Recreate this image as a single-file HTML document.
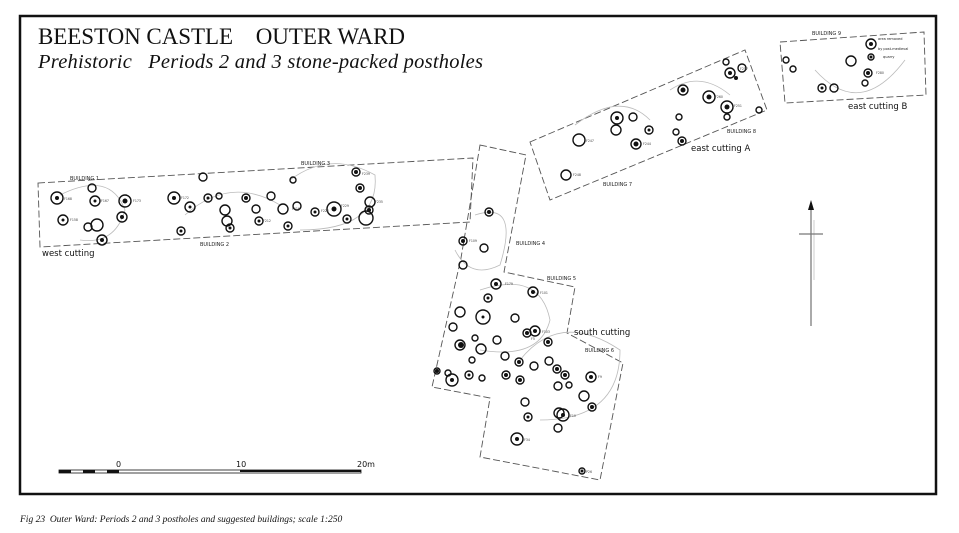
<!DOCTYPE html>
<html><head><meta charset="utf-8"><style>
html,body{margin:0;padding:0;background:#fff;}
svg{display:block;}
.t{font-family:"Liberation Serif",serif;}
.s{font-family:"DejaVu Sans","Liberation Sans",sans-serif;}
</style></head><body>
<svg width="959" height="533" viewBox="0 0 959 533" xmlns="http://www.w3.org/2000/svg">
<rect x="0" y="0" width="959" height="533" fill="#fff"/>
<rect x="20" y="16" width="916" height="478" fill="none" stroke="#111" stroke-width="2.5"/>
<text x="38" y="44" class="t" font-size="23" fill="#111" textLength="367">BEESTON CASTLE&#160;&#160;&#160;&#160;OUTER WARD</text>
<text x="38" y="68" class="t" font-size="20.5" font-style="italic" fill="#111" textLength="445">Prehistoric&#160;&#160;&#160;Periods 2 and 3 stone-packed postholes</text>

<g fill="none" stroke="#555" stroke-width="0.9" stroke-dasharray="7,3">
<polygon points="38,183 473,158 470,222 40,247"/>
<polygon points="480,145 526,155 504,272 575,287 567,333 623,363 600,480 480,457 490,398 432,387 461,258"/>
<polygon points="530,142 745,50 767,110 550,200"/>
<polygon points="780,42 924,32 926,95 785,103"/>
</g>
<g fill="none" stroke="#bbb" stroke-width="0.8">
<path d="M60,195 Q110,170 125,210 Q115,245 80,240"/>
<path d="M185,215 Q230,175 280,205"/>
<path d="M290,180 Q330,150 375,175 Q380,230 300,230"/>
<path d="M475,215 Q520,200 500,265 Q470,280 455,250"/>
<path d="M480,290 Q540,270 550,320 Q540,360 480,350"/>
<path d="M520,360 Q560,310 620,350 Q620,420 540,420"/>
<path d="M575,125 Q620,90 650,120"/>
<path d="M670,90 Q700,70 730,95"/>
<path d="M815,70 Q860,120 905,60"/>
</g>

<g stroke="#111" stroke-width="1.4" fill="none">
<circle cx="57" cy="198" r="6"/><circle cx="95" cy="201" r="5"/><circle cx="125" cy="201" r="6"/><circle cx="63" cy="220" r="5"/><circle cx="97" cy="225" r="6"/><circle cx="122" cy="217" r="5"/><circle cx="88" cy="227" r="4"/><circle cx="102" cy="240" r="5"/><circle cx="92" cy="188" r="4"/>
<circle cx="174" cy="198" r="6"/><circle cx="190" cy="207" r="5"/><circle cx="208" cy="198" r="4"/><circle cx="219" cy="196" r="3"/><circle cx="225" cy="210" r="5"/><circle cx="246" cy="198" r="4"/><circle cx="181" cy="231" r="4"/><circle cx="256" cy="209" r="4"/><circle cx="259" cy="221" r="4"/><circle cx="283" cy="209" r="5"/><circle cx="297" cy="206" r="4"/><circle cx="315" cy="212" r="4"/><circle cx="334" cy="209" r="7"/><circle cx="347" cy="219" r="4"/><circle cx="288" cy="226" r="4"/><circle cx="366" cy="218" r="7"/><circle cx="370" cy="202" r="5"/><circle cx="369" cy="210" r="4"/><circle cx="356" cy="172" r="4"/><circle cx="360" cy="188" r="4"/><circle cx="293" cy="180" r="3"/><circle cx="227" cy="221" r="5"/><circle cx="203" cy="177" r="4"/><circle cx="271" cy="196" r="4"/><circle cx="230" cy="228" r="4"/>
<circle cx="489" cy="212" r="4"/><circle cx="463" cy="241" r="4"/><circle cx="484" cy="248" r="4"/><circle cx="463" cy="265" r="4"/><circle cx="496" cy="284" r="5"/><circle cx="488" cy="298" r="4"/><circle cx="483" cy="317" r="7"/><circle cx="460" cy="312" r="5"/><circle cx="453" cy="327" r="4"/><circle cx="460" cy="345" r="5"/><circle cx="497" cy="340" r="4"/><circle cx="515" cy="318" r="4"/><circle cx="533" cy="292" r="5"/><circle cx="527" cy="333" r="4"/><circle cx="535" cy="331" r="5"/><circle cx="519" cy="362" r="4"/><circle cx="505" cy="356" r="4"/><circle cx="475" cy="338" r="3"/><circle cx="481" cy="349" r="5"/><circle cx="452" cy="380" r="6"/><circle cx="437" cy="371" r="3"/><circle cx="469" cy="375" r="4"/><circle cx="482" cy="378" r="3"/><circle cx="506" cy="375" r="4"/><circle cx="520" cy="380" r="4"/><circle cx="534" cy="366" r="4"/><circle cx="548" cy="342" r="4"/><circle cx="549" cy="361" r="4"/><circle cx="557" cy="369" r="4"/><circle cx="565" cy="375" r="4"/><circle cx="558" cy="386" r="4"/><circle cx="569" cy="385" r="3"/><circle cx="591" cy="377" r="5"/><circle cx="584" cy="396" r="5"/><circle cx="592" cy="407" r="4"/><circle cx="563" cy="415" r="6"/><circle cx="559" cy="413" r="5"/><circle cx="525" cy="402" r="4"/><circle cx="528" cy="417" r="4"/><circle cx="517" cy="439" r="6"/><circle cx="558" cy="428" r="4"/><circle cx="582" cy="471" r="3"/><circle cx="448" cy="373" r="3"/><circle cx="472" cy="360" r="3"/>
<circle cx="579" cy="140" r="6"/><circle cx="566" cy="175" r="5"/><circle cx="617" cy="118" r="6"/><circle cx="616" cy="130" r="5"/><circle cx="633" cy="117" r="4"/><circle cx="649" cy="130" r="4"/><circle cx="636" cy="144" r="5"/><circle cx="679" cy="117" r="3"/><circle cx="676" cy="132" r="3"/><circle cx="682" cy="141" r="4"/><circle cx="683" cy="90" r="5"/><circle cx="709" cy="97" r="6"/><circle cx="727" cy="107" r="6"/><circle cx="727" cy="117" r="3"/><circle cx="730" cy="73" r="5"/><circle cx="742" cy="68" r="4"/><circle cx="726" cy="62" r="3"/><circle cx="759" cy="110" r="3"/>
<circle cx="786" cy="60" r="3"/><circle cx="793" cy="69" r="3"/><circle cx="822" cy="88" r="4"/><circle cx="834" cy="88" r="4"/><circle cx="851" cy="61" r="5"/><circle cx="871" cy="44" r="5"/><circle cx="871" cy="57" r="3"/><circle cx="868" cy="73" r="4"/><circle cx="865" cy="83" r="3"/>
</g>
<g fill="#111">
<circle cx="57" cy="198" r="2"/><circle cx="95" cy="201" r="1.5"/><circle cx="125" cy="201" r="2.5"/><circle cx="63" cy="220" r="1.5"/><circle cx="122" cy="217" r="2"/><circle cx="102" cy="240" r="2"/><circle cx="174" cy="198" r="2"/><circle cx="190" cy="207" r="1.5"/><circle cx="208" cy="198" r="1.5"/><circle cx="246" cy="198" r="2"/><circle cx="181" cy="231" r="1.5"/><circle cx="259" cy="221" r="1.5"/><circle cx="288" cy="226" r="1.5"/><circle cx="315" cy="212" r="1.5"/><circle cx="334" cy="209" r="2.5"/><circle cx="347" cy="219" r="1.5"/><circle cx="360" cy="188" r="2"/><circle cx="356" cy="172" r="2"/><circle cx="369" cy="210" r="2"/><circle cx="230" cy="228" r="1.5"/>
<circle cx="496" cy="284" r="2"/><circle cx="463" cy="241" r="2"/><circle cx="488" cy="298" r="1.5"/><circle cx="483" cy="317" r="1.5"/><circle cx="533" cy="292" r="2"/><circle cx="535" cy="331" r="2"/><circle cx="527" cy="333" r="2"/><circle cx="519" cy="362" r="2"/><circle cx="452" cy="380" r="2"/><circle cx="469" cy="375" r="1.5"/><circle cx="506" cy="375" r="2"/><circle cx="520" cy="380" r="2"/><circle cx="548" cy="342" r="2"/><circle cx="557" cy="369" r="2"/><circle cx="565" cy="375" r="2"/><circle cx="591" cy="377" r="2"/><circle cx="563" cy="415" r="2"/><circle cx="528" cy="417" r="1.5"/><circle cx="517" cy="439" r="2"/><circle cx="592" cy="407" r="2"/><circle cx="461" cy="345" r="3"/><circle cx="489" cy="212" r="2"/><circle cx="582" cy="471" r="1.5"/><circle cx="437" cy="371" r="2"/>
<circle cx="636" cy="144" r="2.5"/><circle cx="683" cy="90" r="2.5"/><circle cx="709" cy="97" r="2.5"/><circle cx="727" cy="107" r="2.5"/><circle cx="617" cy="118" r="2"/><circle cx="649" cy="130" r="1.5"/><circle cx="730" cy="73" r="2"/><circle cx="736" cy="78" r="2"/><circle cx="682" cy="141" r="2"/>
<circle cx="871" cy="44" r="2"/><circle cx="871" cy="57" r="1.5"/><circle cx="868" cy="73" r="2"/><circle cx="822" cy="88" r="1.5"/>
</g>

<g class="s" font-size="5" fill="#222">
<text x="70" y="180">BUILDING 1</text><text x="301" y="165">BUILDING 3</text><text x="200" y="246">BUILDING 2</text>
<text x="516" y="245">BUILDING 4</text><text x="547" y="280">BUILDING 5</text><text x="585" y="352">BUILDING 6</text>
<text x="603" y="186">BUILDING 7</text><text x="727" y="133">BUILDING 8</text><text x="812" y="35">BUILDING 9</text>
<text x="878" y="40" font-size="3.5">area removed</text><text x="878" y="50" font-size="3.5">by post-medieval</text><text x="883" y="58" font-size="3.5">quarry</text>
</g>
<g class="s" font-size="3.2" fill="#444">
<text x="64" y="200">F168</text><text x="101" y="202">F167</text><text x="133" y="202">F173</text><text x="70" y="221">F158</text><text x="181" y="199">F172</text><text x="341" y="207">F229</text><text x="375" y="203">F235</text><text x="362" y="175">F239</text><text x="321" y="212">F226</text><text x="292" y="210">F216</text><text x="263" y="222">F212</text>
<text x="505" y="285">F179</text><text x="540" y="294">F101</text><text x="542" y="333">F103</text><text x="531" y="340">F5</text><text x="598" y="378">F9</text><text x="570" y="417">F10</text><text x="524" y="441">F34</text><text x="586" y="473">P26</text><text x="469" y="242">F109</text>
<text x="586" y="142">F247</text><text x="573" y="176">F248</text><text x="643" y="145">F244</text><text x="715" y="98">F260</text><text x="734" y="107">F251</text><text x="740" y="70">F257</text><text x="876" y="74">F280</text>
</g>
<g class="s" font-size="8.5" fill="#111">
<text x="42" y="256">west cutting</text><text x="574" y="335">south cutting</text><text x="691" y="151">east cutting A</text><text x="848" y="109">east cutting B</text>
</g>

<line x1="811" y1="207" x2="811" y2="326" stroke="#555" stroke-width="1"/>
<line x1="814" y1="220" x2="814" y2="280" stroke="#aaa" stroke-width="0.6"/>
<line x1="799" y1="234" x2="823" y2="234" stroke="#777" stroke-width="1.2"/>
<polygon points="811,200 808,210 814,210" fill="#111"/>

<rect x="59" y="470" width="302" height="3" fill="none" stroke="#111" stroke-width="0.8"/>
<rect x="59" y="470" width="12" height="3" fill="#111"/><rect x="83" y="470" width="12" height="3" fill="#111"/><rect x="107" y="470" width="12" height="3" fill="#111"/>
<rect x="240" y="470" width="121" height="2" fill="#111"/>
<text x="116" y="467" class="s" font-size="8" fill="#111">0</text>
<text x="236" y="467" class="s" font-size="8" fill="#111">10</text>
<text x="357" y="467" class="s" font-size="8" fill="#111">20m</text>

<text x="20" y="522" class="t" font-size="9.5" font-style="italic" fill="#111">Fig 23&#160; Outer Ward: Periods 2 and 3 postholes and suggested buildings; scale 1:250</text>
</svg>
</body></html>
